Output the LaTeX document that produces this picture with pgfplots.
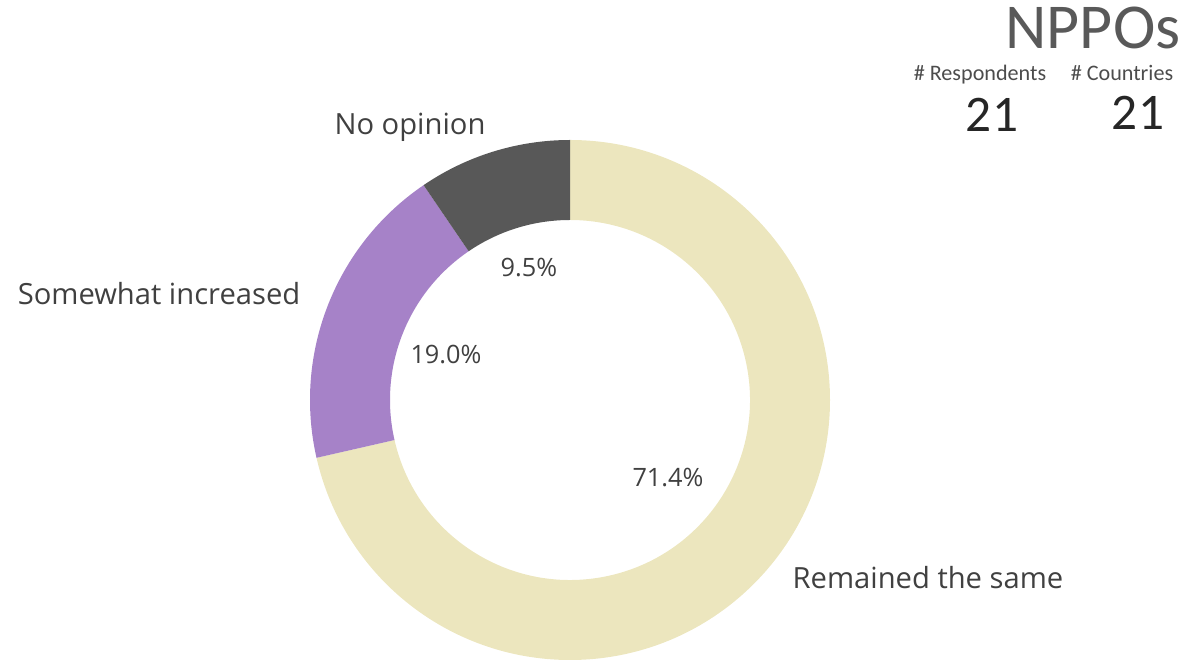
\documentclass[border=0pt]{standalone}
\usepackage{pgfplots}
\pgfplotsset{compat=1.18}
\usetikzlibrary{calc}
\usepackage{fontspec}
\setmainfont{Open Sans}
\newfontfamily\calfont{Carlito}
\definecolor{cSame}{HTML}{ECE6BE}
\definecolor{cInc}{HTML}{A682C8}
\definecolor{cNo}{HTML}{585858}
\definecolor{txt}{HTML}{404040}
% shares (percent)
\def\vSame{71.43}
\def\vInc{19.05}
\def\vNo{9.52}
\begin{document}
\begin{tikzpicture}
\begin{axis}[
  scale only axis, width=11.86cm, height=6.61cm,
  xmin=0, xmax=1186, ymin=0, ymax=661,
  hide axis, clip=false,
]
\path (axis cs:0,0) rectangle (axis cs:1186,661);
\pgfmathsetmacro{\aA}{90}
\pgfmathsetmacro{\aB}{90-3.6*\vSame}
\pgfmathsetmacro{\aC}{\aB-3.6*\vInc}
\pgfmathsetmacro{\aD}{\aC-3.6*\vNo}
\fill[cSame] ($(axis cs:570,261)+(\aA:2.6cm)$) arc[start angle=\aA, end angle=\aB, radius=2.6cm]
  -- ($(axis cs:570,261)+(\aB:1.8cm)$) arc[start angle=\aB, end angle=\aA, radius=1.8cm] -- cycle;
\fill[cInc] ($(axis cs:570,261)+(\aB:2.6cm)$) arc[start angle=\aB, end angle=\aC, radius=2.6cm]
  -- ($(axis cs:570,261)+(\aC:1.8cm)$) arc[start angle=\aC, end angle=\aB, radius=1.8cm] -- cycle;
\fill[cNo] ($(axis cs:570,261)+(\aC:2.6cm)$) arc[start angle=\aC, end angle=\aD, radius=2.6cm]
  -- ($(axis cs:570,261)+(\aD:1.8cm)$) arc[start angle=\aD, end angle=\aC, radius=1.8cm] -- cycle;
\node[txt, font=\fontsize{8.3}{10}\selectfont] at (axis cs:410,534) {No opinion};
\node[txt, font=\fontsize{8.3}{10}\selectfont] at (axis cs:159,367) {Somewhat increased};
\node[txt, font=\fontsize{8.3}{10}\selectfont] at (axis cs:928,83) {Remained the same};
\node[txt, font=\fontsize{7.2}{9}\selectfont] at (axis cs:529,393) {9.5\%};
\node[txt, font=\fontsize{7.2}{9}\selectfont] at (axis cs:446,306) {19.0\%};
\node[txt, font=\fontsize{7.2}{9}\selectfont] at (axis cs:668,183) {71.4\%};
\node[anchor=base east, text=black!65, inner sep=0pt, font=\calfont\fontsize{18.2}{20}\selectfont] at (axis cs:1181,612) {NPPOs};
\node[anchor=base, text=black!70, inner sep=0pt, font=\calfont\fontsize{6.3}{7}\selectfont] at (axis cs:980,580) {\# Respondents};
\node[anchor=base, text=black!70, inner sep=0pt, font=\calfont\fontsize{6.3}{7}\selectfont] at (axis cs:1122,580) {\# Countries};
\node[text=black!85, inner sep=0pt, font=\calfont\fontsize{14.6}{16}\selectfont] at (axis cs:992,546) {21};
\node[text=black!85, inner sep=0pt, font=\calfont\fontsize{14.6}{16}\selectfont] at (axis cs:1138,548) {21};
\end{axis}
\end{tikzpicture}
\end{document}
